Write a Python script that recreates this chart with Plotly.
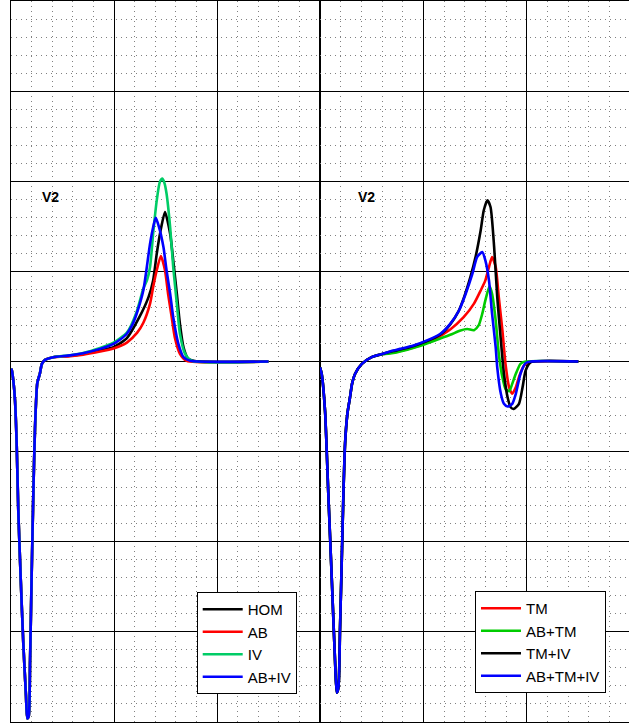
import plotly.graph_objects as go

# ---------------- data (time in ms, amplitude in mV) ----------------
# Left panel: shared initial deflection (all four traces overlap)
left_q_t = [0, 1.3, 4.5, 7.8, 11, 14.2, 18.8, 24, 29, 31.7, 34.3, 37, 40, 43.3, 46.6, 51, 56, 60, 66, 82]
left_q_v = [-0.04, -0.046, -0.106, -0.217, -0.456, -0.83, -1.2, -1.57, -1.85, -1.98, -1.97, -1.66,
            -1.2, -0.74, -0.37, -0.12, -0.068, -0.013, 0.009, 0.024]

hom_t = [115, 140, 173, 199, 225, 250, 267, 276, 283, 290, 299, 309, 315, 322, 328, 335, 344, 357, 500]
hom_v = [0.032, 0.042, 0.062, 0.08, 0.13, 0.25, 0.357, 0.45, 0.598, 0.72, 0.829, 0.709, 0.561,
         0.376, 0.209, 0.079, 0.015, 0.003, 0]

ab_t = [115, 140, 173, 199, 225, 245, 257, 270, 276, 283, 291, 299, 305, 312, 318, 328, 341, 500]
ab_v = [0.03, 0.038, 0.055, 0.072, 0.105, 0.16, 0.215, 0.321, 0.413, 0.506, 0.585, 0.506, 0.376,
        0.246, 0.135, 0.043, 0.004, 0]

iv_t = [115, 140, 173, 199, 225, 244, 257, 264, 270, 276, 283, 289, 294, 298, 302, 309, 315, 322, 328,
        338, 351, 500]
iv_v = [0.035, 0.047, 0.075, 0.104, 0.16, 0.275, 0.405, 0.45, 0.524, 0.709, 0.894, 0.996, 1.015, 0.99,
        0.932, 0.746, 0.524, 0.321, 0.154, 0.043, 0.004, 0]

abiv_t = [115, 140, 173, 199, 212, 225, 235, 244, 257, 270, 276, 281, 287, 296, 302, 309, 315, 325, 335,
          348, 500]
abiv_v = [0.034, 0.046, 0.07, 0.098, 0.122, 0.154, 0.2, 0.265, 0.395, 0.654, 0.745, 0.797, 0.75, 0.635,
          0.506, 0.376, 0.246, 0.098, 0.024, 0.004, 0]

# Right panel: shared initial deflection
right_q_t = [0, 3.2, 9.7, 16.1, 22.7, 29.1, 32.4, 35.6, 38.8, 42.1, 45.3, 48.5, 53, 58, 62, 68, 81, 100, 117]
right_q_v = [-0.032, -0.068, -0.272, -0.735, -1.198, -1.66, -1.837, -1.81, -1.476, -1.106, -0.735,
             -0.457, -0.29, -0.2, -0.124, -0.068, -0.013, 0.024, 0.039]

tm_t = [142, 155, 188, 220, 252, 278, 298, 311, 320, 327, 333, 340, 346, 353, 359, 366, 372, 379, 385,
        395, 405, 500]
tm_v = [0.05, 0.058, 0.085, 0.122, 0.178, 0.246, 0.321, 0.394, 0.45, 0.524, 0.579, 0.524, 0.357, 0.172,
        -0.013, -0.143, -0.179, -0.143, -0.087, -0.022, -0.004, 0]

abtm_t = [142, 155, 188, 220, 252, 272, 285, 298, 307, 314, 320, 328, 333, 340, 346, 353, 359, 366, 372,
          379, 388, 398, 500]
abtm_v = [0.047, 0.055, 0.082, 0.114, 0.148, 0.172, 0.18, 0.174, 0.2, 0.265, 0.339, 0.417, 0.376, 0.228,
          0.043, -0.087, -0.152, -0.165, -0.124, -0.068, -0.013, 0, 0]

tmiv_t = [142, 155, 181, 207, 233, 252, 268, 278, 291, 301, 311, 317, 324, 330, 337, 343, 350, 356, 363,
          369, 375, 385, 392, 398, 408, 500]
tmiv_v = [0.058, 0.066, 0.086, 0.113, 0.15, 0.206, 0.278, 0.35, 0.468, 0.579, 0.728, 0.839, 0.894, 0.857,
          0.635, 0.357, 0.117, -0.068, -0.198, -0.254, -0.263, -0.235, -0.143, -0.05, -0.004, 0]

abtmiv_t = [142, 155, 181, 207, 233, 252, 269, 282, 295, 304, 314, 320, 327, 333, 340, 343, 350, 356, 363,
            372, 379, 388, 398, 408, 500]
abtmiv_v = [0.061, 0.07, 0.089, 0.117, 0.154, 0.209, 0.283, 0.376, 0.487, 0.579, 0.607, 0.561, 0.45,
            0.265, 0.079, -0.032, -0.179, -0.235, -0.25, -0.235, -0.179, -0.068, -0.009, 0, 0]

left_series = [("HOM", hom_t, hom_v, "#000000"),
               ("AB", ab_t, ab_v, "#FF0000"),
               ("IV", iv_t, iv_v, "#00CC66"),
               ("AB+IV", abiv_t, abiv_v, "#0000FF")]
right_series = [("TM", tm_t, tm_v, "#FF0000"),
                ("AB+TM", abtm_t, abtm_v, "#00CC00"),
                ("TM+IV", tmiv_t, tmiv_v, "#000000"),
                ("AB+TM+IV", abtmiv_t, abtmiv_v, "#0000FF")]

lead_label = "V2"

# ---------------- figure ----------------
fig = go.Figure()

for name, t, v, col in left_series:
    fig.add_trace(go.Scatter(
        x=left_q_t + t, y=left_q_v + v, name=name, mode="lines",
        line=dict(color=col, width=2.6, shape="spline", smoothing=0.6),
        xaxis="x", yaxis="y", legend="legend"))

for name, t, v, col in right_series:
    fig.add_trace(go.Scatter(
        x=right_q_t + t, y=right_q_v + v, name=name, mode="lines",
        line=dict(color=col, width=2.6, shape="spline", smoothing=0.6),
        xaxis="x2", yaxis="y2", legend="legend2"))

minor_grid = dict(showgrid=True, gridcolor="#808080", griddash="1px,4px", gridwidth=1)

def xax(domain, rng, anchor):
    return dict(domain=domain, range=rng, anchor=anchor, tick0=0, dtick=200,
                showgrid=True, gridcolor="#000000", gridwidth=1.2,
                minor=dict(minor_grid, dtick=40, tick0=0),
                showticklabels=False, ticks="", zeroline=False,
                showline=True, mirror=True, linecolor="#000000", linewidth=1.2,
                fixedrange=True)

def yax(anchor, mirror):
    return dict(range=[-2, 2], anchor=anchor, tick0=0, dtick=0.5,
                showgrid=True, gridcolor="#000000", gridwidth=1.2,
                minor=dict(minor_grid, dtick=0.1, tick0=0),
                showticklabels=False, ticks="", zeroline=False,
                showline=True, mirror=mirror, linecolor="#000000", linewidth=1.2,
                fixedrange=True)

legend_style = dict(bgcolor="#FFFFFF", bordercolor="#000000", borderwidth=1,
                    font=dict(family="Liberation Sans, Arial, sans-serif", size=15, color="#000000"),
                    xanchor="left", yanchor="top", traceorder="normal", tracegroupgap=0,
                    itemwidth=40)

fig.update_layout(
    width=629, height=723,
    margin=dict(l=11, r=0, t=1, b=1),
    paper_bgcolor="#FFFFFF", plot_bgcolor="#FFFFFF",
    xaxis=xax([0, 0.5], [0, 600], "y"),
    yaxis=yax("x", True),
    xaxis2=xax([0.5, 1], [0, 598], "y2"),
    yaxis2=yax("x2", False),
    legend=dict(legend_style, x=0.3005, y=0.1803),
    legend2=dict(legend_style, x=0.7508, y=0.1817),
    showlegend=True,
    annotations=[
        dict(text="<b>%s</b>" % lead_label, x=76, y=0.91, xref="x", yref="y", showarrow=False,
             font=dict(family="Liberation Sans, Arial, sans-serif", size=14, color="#000000")),
        dict(text="<b>%s</b>" % lead_label, x=90, y=0.91, xref="x2", yref="y2", showarrow=False,
             font=dict(family="Liberation Sans, Arial, sans-serif", size=14, color="#000000")),
    ],
)

fig.write_html("out.html", config={"displayModeBar": False},
               post_script="document.body.style.margin='0';document.body.style.overflow='hidden';")
